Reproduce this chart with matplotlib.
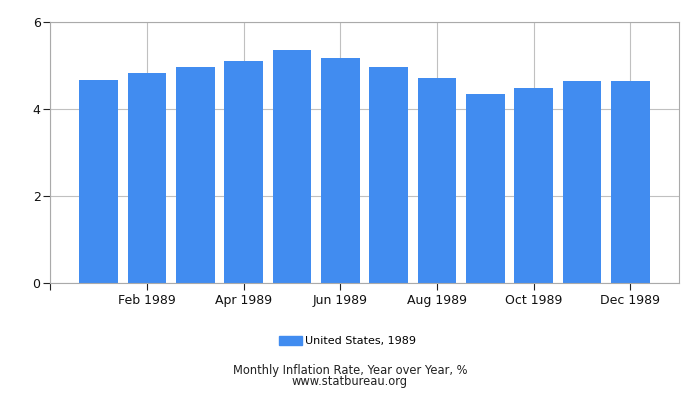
import numpy as np
from matplotlib import pyplot as plt
from matplotlib.patches import Patch

months = ["Jan", "Feb", "Mar", "Apr", "May", "Jun",
          "Jul", "Aug", "Sep", "Oct", "Nov", "Dec"]
rates = [4.67, 4.83, 4.98, 5.11, 5.36, 5.17, 4.98, 4.71, 4.34, 4.49, 4.66, 4.65]
year = "1989"
series = "United States, 1989"
title = "Monthly Inflation Rate, Year over Year, %"
source = "www.statbureau.org"

bar_color = "#418cf0"
grid_color = "#c0c0c0"

fig = plt.figure(figsize=(7, 4), dpi=100)
ax = fig.add_axes([0.0719, 0.2925, 0.8977, 0.6515])

ind = np.arange(len(months))
ax.bar(ind, rates, width=0.8, color=bar_color, zorder=2)

ax.set_xlim(-1, 12)
ax.set_ylim(0, 6)
xt = np.arange(-1, 12, 2)
ax.set_xticks(xt)
ax.set_xticklabels([""] + [months[i] + " " + year for i in xt[1:]])
ax.set_yticks([0, 2, 4, 6])
ax.grid(True, color=grid_color, linewidth=0.8, zorder=0)
for s in ax.spines.values():
    s.set_color("#aaaaaa")
ax.tick_params(axis="both", length=5, width=0.8, color="#222222",
               labelsize=9, labelcolor="#111111", direction="out")
ax.tick_params(axis="x", pad=3)
ax.tick_params(axis="y", pad=2)

fig.legend([Patch(color=bar_color)], [series], loc="center",
           bbox_to_anchor=(0.497, 0.148), frameon=False, fontsize=8,
           handlelength=2.0, handleheight=0.9, handletextpad=0.35)
fig.text(0.5, 0.074, title, ha="center", va="center", fontsize=8.3, color="#222222")
fig.text(0.5, 0.045, source, ha="center", va="center", fontsize=8.3, color="#222222")

fig.savefig("out.png", dpi=100)
